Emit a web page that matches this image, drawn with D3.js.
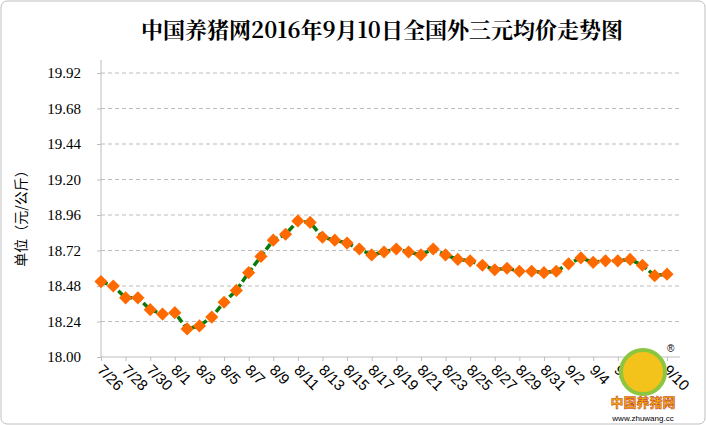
<!DOCTYPE html>
<html><head><meta charset="utf-8">
<script src="https://cdn.jsdelivr.net/npm/d3@7"></script>
<style>body{margin:0;background:#fff}svg{display:block}</style>
</head><body>
<script>
var dates = ["7/26","7/27","7/28","7/29","7/30","7/31","8/1","8/2","8/3","8/4","8/5","8/6","8/7","8/8","8/9","8/10","8/11","8/12","8/13","8/14","8/15","8/16","8/17","8/18","8/19","8/20","8/21","8/22","8/23","8/24","8/25","8/26","8/27","8/28","8/29","8/30","8/31","9/1","9/2","9/3","9/4","9/5","9/6","9/7","9/8","9/9","9/10"];
var prices = [18.51,18.48,18.40,18.40,18.32,18.29,18.30,18.19,18.21,18.27,18.37,18.45,18.57,18.68,18.79,18.83,18.92,18.91,18.81,18.79,18.77,18.73,18.69,18.71,18.73,18.71,18.69,18.73,18.69,18.66,18.65,18.62,18.59,18.60,18.58,18.58,18.57,18.58,18.63,18.67,18.64,18.65,18.65,18.66,18.62,18.55,18.56];
var yTicks = [18.00,18.24,18.48,18.72,18.96,19.20,19.44,19.68,19.92];

var W = 706, H = 425;
var svg = d3.select("body").append("svg").attr("width", W).attr("height", H);

svg.append("rect").attr("x", 1).attr("y", 1).attr("width", W - 2).attr("height", H - 2)
    .attr("rx", 6).attr("fill", "#fff").attr("stroke", "#bfbfbf");

svg.append("text").attr("x", 382).attr("y", 38).attr("text-anchor", "middle")
    .attr("font-family", "'Noto Serif CJK SC','Noto Sans CJK SC',serif").attr("font-weight", "bold")
    .attr("font-size", 22).text("中国养猪网2016年9月10日全国外三元均价走势图");

var x = d3.scalePoint().domain(dates).range([101, 667]);
var y = d3.scaleLinear().domain([18, 19.92]).range([357, 73]);

// grid
svg.append("g").selectAll("line").data(yTicks.slice(1)).enter().append("line")
    .attr("x1", 101).attr("x2", 680)
    .attr("y1", function (d) { return y(d); }).attr("y2", function (d) { return y(d); })
    .attr("stroke", "#bdbdbd").attr("stroke-dasharray", "4,3");

var yAxis = svg.append("g").attr("transform", "translate(101,0)")
    .call(d3.axisLeft(y).tickValues(yTicks).tickFormat(d3.format(".2f")).tickSize(4));
yAxis.select(".domain").attr("stroke", "#bdbdbd").attr("d", "M0,60V357");
yAxis.selectAll(".tick line").attr("stroke", "#bdbdbd");
yAxis.selectAll("text").attr("font-family", "'Liberation Serif',serif").attr("font-size", 15)
    .attr("fill", "#000").attr("x", -20);

var labelDates = dates.filter(function (d, i) { return d !== "7/31" && (i < 6 ? i % 2 === 0 : (i - 6) % 2 === 0); });
var xAxis = svg.append("g").attr("transform", "translate(0,357)")
    .call(d3.axisBottom(x).tickValues(labelDates).tickSize(4));
xAxis.select(".domain").attr("stroke", "#bdbdbd").attr("d", "M101,0H680");
xAxis.selectAll(".tick line").attr("stroke", "#bdbdbd");
xAxis.selectAll("text").attr("font-family", "'Liberation Sans',sans-serif").attr("font-size", 15)
    .attr("fill", "#000").attr("text-anchor", "start").attr("dy", 0).attr("y", 0)
    .attr("transform", "translate(-5,14) rotate(45)");

svg.append("text").attr("transform", "translate(26,215) rotate(-90)").attr("text-anchor", "middle")
    .attr("font-family", "'Noto Sans CJK SC',sans-serif").attr("font-size", 14)
    .text("单位（元/公斤）");

var line = d3.line().x(function (d, i) { return x(dates[i]); }).y(function (d) { return y(d); });
svg.append("path").datum(prices).attr("d", line).attr("fill", "none")
    .attr("stroke", "#0a7a0a").attr("stroke-width", 3.5).attr("stroke-dasharray", "7,3");

svg.append("g").selectAll("path").data(prices).enter().append("path")
    .attr("d", d3.symbol().type(d3.symbolDiamond2).size(110))
    .attr("transform", function (d, i) { return "translate(" + x(dates[i]) + "," + y(d) + ")"; })
    .attr("fill", "#ff6a00");

// logo
var logo = svg.append("g").attr("transform", "translate(643,372)");
logo.append("circle").attr("r", 22).attr("fill", "#f3c21b").attr("stroke", "#8cc63f").attr("stroke-width", 4);
logo.append("text").attr("x", 24).attr("y", -20).attr("font-size", 10).attr("font-family", "sans-serif").text("®");
logo.append("text").attr("y", 35).attr("text-anchor", "middle").attr("font-size", 13).attr("font-weight", "bold")
    .attr("font-family", "'Noto Sans CJK SC',sans-serif").attr("fill", "#f7b500").attr("stroke", "#c0392b")
    .attr("stroke-width", 0.5).text("中国养猪网");
logo.append("text").attr("y", 49).attr("text-anchor", "middle").attr("font-size", 8)
    .attr("font-family", "sans-serif").text("www.zhuwang.cc");
</script>
</body></html>
